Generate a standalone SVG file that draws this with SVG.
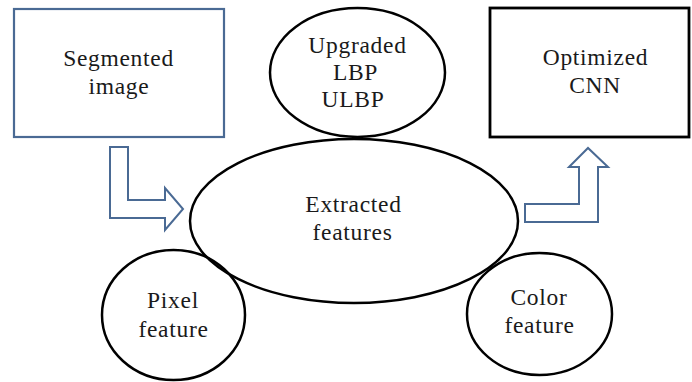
<svg xmlns="http://www.w3.org/2000/svg" width="692" height="382" viewBox="0 0 692 382">
<style>
.t{font-family:"Liberation Serif",serif;font-size:23.5px;letter-spacing:0.7px;fill:#1a1a1a;text-anchor:middle}
.el{fill:none;stroke:#000;stroke-width:2.5}
.bb{fill:#fff;stroke:#4a6a94;stroke-width:2.2}
.kb{fill:#fff;stroke:#000;stroke-width:2.8}
.ar{fill:#fff;stroke:#4a6a94;stroke-width:2;stroke-linejoin:miter}
</style>
<rect width="692" height="382" fill="#fff"/>
<g id="segmented">
<rect class="bb" x="14" y="9" width="210" height="128"/>
<text class="t" x="118.5" y="66">Segmented</text>
<text class="t" x="119" y="94">image</text>
</g>
<g id="optimized">
<rect class="kb" x="490" y="8" width="199" height="129"/>
<text class="t" x="595.5" y="65">Optimized</text>
<text class="t" x="595" y="93">CNN</text>
</g>
<g id="ulbp">
<ellipse class="el" cx="357.5" cy="72.5" rx="87.5" ry="64.5"/>
<text class="t" x="357.5" y="53">Upgraded</text>
<text class="t" x="355.5" y="80">LBP</text>
<text class="t" x="353" y="107">ULBP</text>
</g>
<g id="extracted">
<ellipse class="el" cx="354" cy="221" rx="164" ry="82"/>
<text class="t" x="353.5" y="212">Extracted</text>
<text class="t" x="352.5" y="240">features</text>
</g>
<g id="pixel">
<ellipse class="el" cx="173.5" cy="315" rx="71.5" ry="65"/>
<text class="t" x="173" y="308">Pixel</text>
<text class="t" x="173.5" y="337">feature</text>
</g>
<g id="color">
<ellipse class="el" cx="539.5" cy="314" rx="72.5" ry="61"/>
<text class="t" x="539" y="305">Color</text>
<text class="t" x="539.5" y="333">feature</text>
</g>
<g id="connectors">
<path class="ar" d="M110,147 L128,147 L128,200 L165,200 L165,188 L183,209 L165,230 L165,218 L110,218 Z"/>
<path class="ar" d="M525,204 L579,204 L579,167 L569,167 L588,148 L608,167 L598,167 L598,222 L525,222 Z"/>
</g>
</svg>
